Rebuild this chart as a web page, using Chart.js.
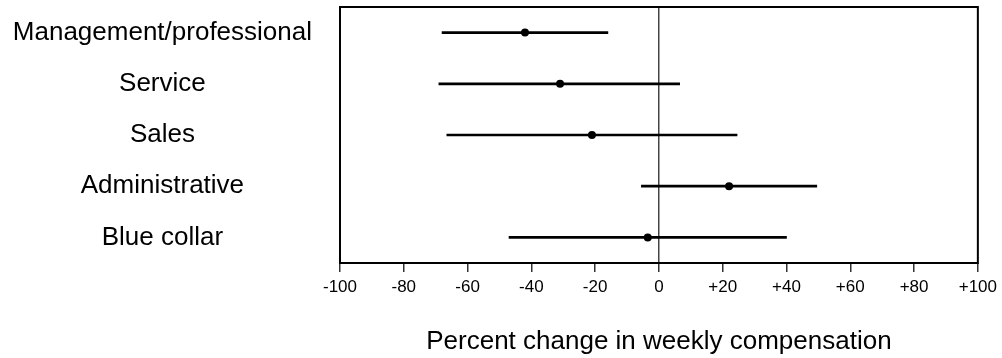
<!DOCTYPE html>
<html>
<head>
<meta charset="utf-8">
<script src="https://cdn.jsdelivr.net/npm/chart.js@4/dist/chart.umd.min.js"></script>
<style>
    html, body { margin: 0; padding: 0; background: #fff; }
    #wrap { width: 1002px; height: 358px; position: relative; }
</style>
</head>
<body>
<div id="wrap"><canvas id="chart"></canvas></div>
<script>
// Veriler
const categories = ['Management/professional', 'Service', 'Sales', 'Administrative', 'Blue collar'];
const estimates = [-42, -31, -21, 22, -3.5];
const lowerBounds = [-68, -69, -66.5, -5.5, -47];
const upperBounds = [-16, 6.5, 24.5, 49.5, 40];
const xTicks = [-100, -80, -60, -40, -20, 0, 20, 40, 60, 80, 100];

const FONT = "'Liberation Sans', Arial, Helvetica, sans-serif";

// Çerçeve çizimi
const boxPlugin = {
    id: 'box',
    afterDraw(chart) {
        const { ctx, chartArea: a } = chart;
        ctx.save();
        ctx.strokeStyle = '#000';
        ctx.lineWidth = 2;
        ctx.strokeRect(a.left, a.top, a.right - a.left, a.bottom - a.top);
        ctx.restore();
    }
};

const ctx = document.getElementById('chart').getContext('2d');

new Chart(ctx, {
    type: 'bar',
    data: {
        labels: categories,
        datasets: [
            {
                type: 'line',
                data: estimates.map((v, i) => ({ x: v, y: categories[i] })),
                showLine: false,
                pointRadius: 4,
                pointHoverRadius: 4,
                pointBackgroundColor: '#000',
                pointBorderColor: '#000',
                pointBorderWidth: 0,
                order: 0
            },
            {
                type: 'bar',
                data: lowerBounds.map((lo, i) => [lo, upperBounds[i]]),
                backgroundColor: '#000',
                borderWidth: 0,
                barThickness: 2,
                order: 1
            }
        ]
    },
    options: {
        indexAxis: 'y',
        responsive: true,
        maintainAspectRatio: false,
        animation: false,
        layout: {
            padding: { top: 7, right: 23, left: 0, bottom: 0 }
        },
        plugins: {
            legend: { display: false },
            tooltip: { enabled: false }
        },
        scales: {
            x: {
                type: 'linear',
                min: -100,
                max: 100,
                afterBuildTicks: (scale) => {
                    scale.ticks = xTicks.map(v => ({ value: v }));
                },
                afterFit: (scale) => { scale.height = 95; },
                border: { display: false },
                grid: {
                    drawOnChartArea: true,
                    drawTicks: true,
                    tickLength: 9,
                    tickColor: '#333',
                    tickWidth: 1.5,
                    lineWidth: 1.5,
                    color: (c) => (c.tick && c.tick.value === 0) ? '#444' : 'rgba(0,0,0,0)'
                },
                ticks: {
                    padding: 5,
                    color: '#000',
                    font: { family: FONT, size: 17 },
                    maxRotation: 0,
                    callback: (v) => v > 0 ? '+' + v : String(v)
                },
                title: {
                    display: true,
                    text: 'Percent change in weekly compensation',
                    color: '#000',
                    font: { family: FONT, size: 26 },
                    padding: { top: 0, bottom: 1 }
                }
            },
            y: {
                type: 'category',
                offset: true,
                afterFit: (scale) => {
                    scale.width = 340;
                    scale.paddingTop = 0;
                    scale.paddingBottom = 0;
                },
                border: { display: false },
                grid: { display: false, drawTicks: false },
                ticks: {
                    crossAlign: 'center',
                    padding: 28,
                    color: '#000',
                    font: { family: FONT, size: 26 }
                }
            }
        }
    },
    plugins: [boxPlugin]
});
</script>
</body>
</html>
